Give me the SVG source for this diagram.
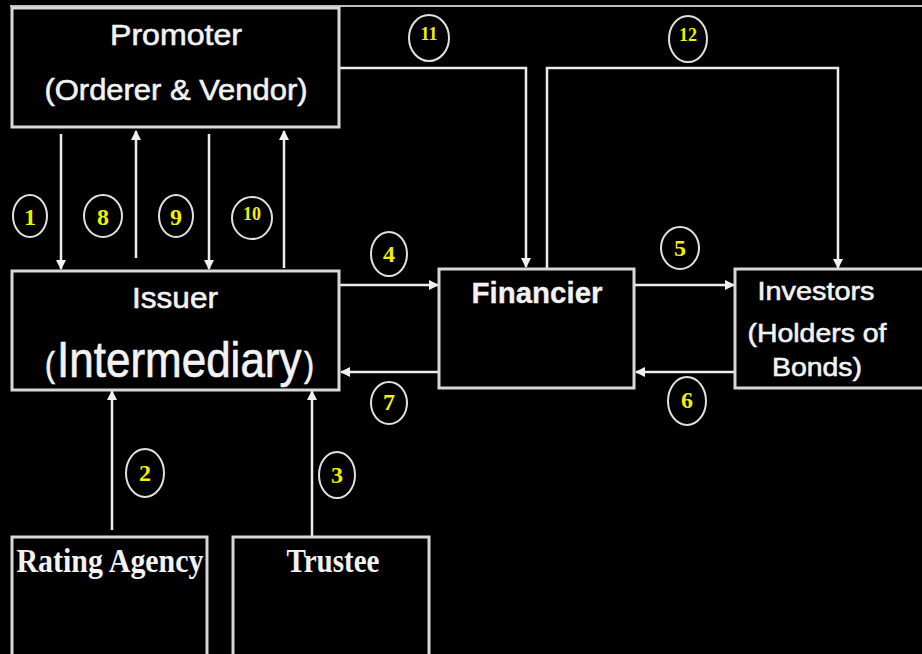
<svg xmlns="http://www.w3.org/2000/svg" width="922" height="654" viewBox="0 0 922 654">
<style>
.box{fill:#000;stroke:#d8d8d8;stroke-width:3}
.c{fill:none;stroke:#ececec;stroke-width:2.5}
.lbl{fill:#f2f2f2;stroke:#f2f2f2;stroke-width:0.6;font-family:"Liberation Sans",Arial,sans-serif;text-anchor:middle}
.ser{fill:#f2f2f2;font-family:"Liberation Serif","Times New Roman",serif;font-weight:bold;text-anchor:middle}
.num ellipse{fill:none;stroke:#e0e0e0;stroke-width:2}
.num text{fill:#f0f000;font-family:"Liberation Serif","Times New Roman",serif;font-weight:bold;font-size:24px;text-anchor:middle}
.num text.s{font-size:18px}
</style>
<defs>
<marker id="ah" viewBox="0 0 10 10" refX="9" refY="5" markerWidth="4" markerHeight="4" orient="auto" markerUnits="strokeWidth">
<path d="M0,0 L10,5 L0,10 z" fill="#f0f0f0"/>
</marker>
</defs>
<rect width="922" height="654" fill="#000"/>
<line x1="10" y1="6" x2="922" y2="6" stroke="#bdbdbd" stroke-width="2"/>

<g id="connectors">
<line class="c" x1="61" y1="134" x2="61" y2="269" marker-end="url(#ah)"/>
<line class="c" x1="136" y1="258" x2="136" y2="131" marker-end="url(#ah)"/>
<line class="c" x1="209" y1="134" x2="209" y2="269" marker-end="url(#ah)"/>
<line class="c" x1="284" y1="268" x2="284" y2="131" marker-end="url(#ah)"/>
<line class="c" x1="112" y1="530" x2="112" y2="391" marker-end="url(#ah)"/>
<line class="c" x1="312" y1="536" x2="312" y2="391" marker-end="url(#ah)"/>
<line class="c" x1="340" y1="285" x2="438" y2="285" marker-end="url(#ah)"/>
<line class="c" x1="438" y1="372" x2="341" y2="372" marker-end="url(#ah)"/>
<line class="c" x1="635" y1="285" x2="734" y2="285" marker-end="url(#ah)"/>
<line class="c" x1="734" y1="372" x2="636" y2="372" marker-end="url(#ah)"/>
<polyline class="c" points="340,68 526,68 526,267" marker-end="url(#ah)"/>
<polyline class="c" points="547,268 547,68 838,68 838,268" marker-end="url(#ah)"/>
</g>

<g id="promoter">
<rect class="box" x="12" y="8" width="327" height="119"/>
<text class="lbl" x="176" y="45" font-size="30" textLength="132" lengthAdjust="spacingAndGlyphs">Promoter</text>
<text class="lbl" x="176" y="100" font-size="30" textLength="263" lengthAdjust="spacingAndGlyphs">(Orderer &amp; Vendor)</text>
</g>

<g id="issuer">
<rect class="box" x="12" y="271" width="327" height="119"/>
<text class="lbl" x="175" y="308" font-size="30" textLength="86" lengthAdjust="spacingAndGlyphs">Issuer</text>
<text class="lbl" transform="translate(0 377) scale(1 1.15)" y="0" style="text-anchor:start"><tspan x="45" font-size="30">(</tspan><tspan x="57" font-size="44">Intermediary</tspan><tspan x="304" font-size="30">)</tspan></text>
</g>

<g id="financier">
<rect class="box" x="439" y="269" width="195" height="119"/>
<text class="lbl" x="537" y="303" font-size="30" font-weight="bold" style="stroke-width:0.3" textLength="131" lengthAdjust="spacingAndGlyphs">Financier</text>
</g>

<g id="investors">
<rect class="box" x="735" y="269" width="200" height="119"/>
<text class="lbl" x="816" y="300" font-size="26" textLength="117" lengthAdjust="spacingAndGlyphs">Investors</text>
<text class="lbl" x="817" y="342" font-size="26" textLength="139" lengthAdjust="spacingAndGlyphs">(Holders of</text>
<text class="lbl" x="817" y="376" font-size="26" textLength="90" lengthAdjust="spacingAndGlyphs">Bonds)</text>
</g>

<g id="rating-agency">
<rect class="box" x="12" y="537" width="195" height="130"/>
<text class="ser" x="110" y="572" font-size="34" textLength="187" lengthAdjust="spacingAndGlyphs">Rating Agency</text>
</g>

<g id="trustee">
<rect class="box" x="233" y="537" width="196" height="130"/>
<text class="ser" x="333" y="572" font-size="34" textLength="93" lengthAdjust="spacingAndGlyphs">Trustee</text>
</g>

<g id="labels" class="num">
<g id="n1"><ellipse cx="30" cy="216" rx="17" ry="21"/><text x="30" y="225">1</text></g>
<g id="n8"><ellipse cx="103" cy="216" rx="19" ry="21"/><text x="103" y="225">8</text></g>
<g id="n9"><ellipse cx="176" cy="216" rx="17" ry="21"/><text x="176" y="225">9</text></g>
<g id="n10"><ellipse cx="252" cy="218" rx="20" ry="21"/><text class="s" x="252" y="220">10</text></g>
<g id="n11"><ellipse cx="429" cy="38" rx="20" ry="23"/><text class="s" x="429" y="40">11</text></g>
<g id="n12"><ellipse cx="688" cy="39" rx="19" ry="23"/><text class="s" x="688" y="41">12</text></g>
<g id="n4"><ellipse cx="389" cy="254" rx="18" ry="22"/><text x="389" y="262">4</text></g>
<g id="n5"><ellipse cx="680" cy="248" rx="19" ry="21"/><text x="680" y="256">5</text></g>
<g id="n7"><ellipse cx="389" cy="403" rx="18" ry="21"/><text x="389" y="410">7</text></g>
<g id="n6"><ellipse cx="687" cy="401" rx="19" ry="24"/><text x="687" y="408">6</text></g>
<g id="n2"><ellipse cx="145" cy="473" rx="19" ry="24"/><text x="145" y="481">2</text></g>
<g id="n3"><ellipse cx="337" cy="475" rx="18" ry="23"/><text x="337" y="483">3</text></g>
</g>
</svg>
